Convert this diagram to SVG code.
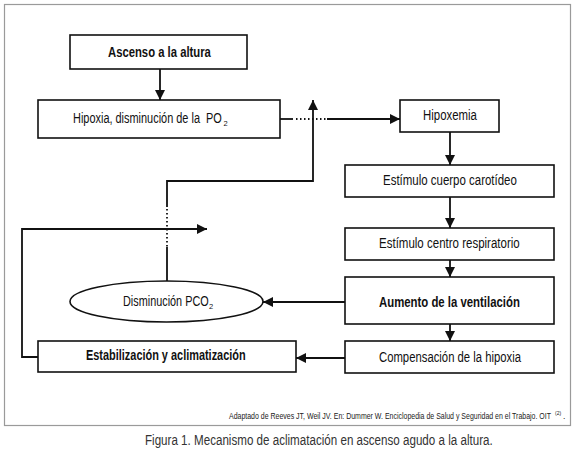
<svg xmlns="http://www.w3.org/2000/svg" width="575" height="457" viewBox="0 0 575 457">
<style>
.box{fill:#fff;stroke:#111;stroke-width:1.6}
.t{font-family:"Liberation Sans",Arial,sans-serif;font-size:14.5px;fill:#111}
.sub{font-family:"Liberation Sans",Arial,sans-serif;font-size:7.5px;fill:#111}
.b{font-weight:bold}
.ln{fill:none;stroke:#111;stroke-width:1.8}
.dot{fill:none;stroke:#111;stroke-width:1.8;stroke-dasharray:1.5 2.5}
</style>
<defs>
<marker id="ah" viewBox="0 0 10 10" refX="10" refY="5" markerWidth="10" markerHeight="10" markerUnits="userSpaceOnUse" orient="auto">
<path d="M0,0 L10,5 L0,10 z" fill="#111"/>
</marker>
</defs>
<rect x="0" y="0" width="575" height="457" fill="#fff"/>
<rect x="4.5" y="4.5" width="566" height="421" fill="none" stroke="#9a9a9a" stroke-width="1.2"/>

<g id="connectors">
<line class="ln" x1="160" y1="69" x2="160" y2="100" marker-end="url(#ah)"/>
<polyline class="ln" points="280,119 293,119"/>
<line class="dot" x1="296" y1="119" x2="327" y2="119"/>
<line class="ln" x1="327" y1="119" x2="400" y2="119" marker-end="url(#ah)"/>
<line class="ln" x1="450" y1="132" x2="450" y2="165" marker-end="url(#ah)"/>
<line class="ln" x1="450" y1="197" x2="450" y2="228" marker-end="url(#ah)"/>
<line class="ln" x1="450" y1="260" x2="450" y2="277" marker-end="url(#ah)"/>
<line class="ln" x1="450" y1="324" x2="450" y2="341" marker-end="url(#ah)"/>
<line class="ln" x1="345" y1="302" x2="263" y2="302" marker-end="url(#ah)"/>
<line class="ln" x1="345" y1="358" x2="296" y2="358" marker-end="url(#ah)"/>
<polyline class="ln" points="167,207 167,181 313,181 313,100" marker-end="url(#ah)"/>
<line class="dot" x1="167" y1="209" x2="167" y2="247"/>
<line class="ln" x1="167" y1="247" x2="167" y2="281"/>
<polyline class="ln" points="38,357 22,357 22,229 207,229" marker-end="url(#ah)"/>
</g>

<g id="n1"><rect class="box" x="70" y="35" width="177" height="34"/>
<text class="t b" transform="translate(108,57) scale(0.779,1)">Ascenso a la altura</text></g>

<g id="n2"><rect class="box" x="38" y="100" width="242" height="38"/>
<text class="t" transform="translate(73,123) scale(0.755,1)" xml:space="preserve">Hipoxia, disminución de la  PO</text>
<text class="sub" x="223.5" y="125.5">2</text></g>

<g id="n3"><rect class="box" x="400" y="100" width="99" height="32"/>
<text class="t" transform="translate(423,120) scale(0.788,1)">Hipoxemia</text></g>

<g id="n4"><rect class="box" x="345" y="165" width="209" height="32"/>
<text class="t" transform="translate(383,185) scale(0.792,1)">Estímulo cuerpo carotídeo</text></g>

<g id="n5"><rect class="box" x="345" y="228" width="209" height="32"/>
<text class="t" transform="translate(379,248) scale(0.795,1)">Estímulo centro respiratorio</text></g>

<g id="n6"><rect class="box" x="345" y="277" width="209" height="47"/>
<text class="t b" transform="translate(379,307) scale(0.785,1)">Aumento de la ventilación</text></g>

<g id="n7"><rect class="box" x="345" y="341" width="209" height="32"/>
<text class="t" transform="translate(379,362) scale(0.78,1)">Compensación de la hipoxia</text></g>

<g id="n8"><ellipse class="box" cx="166.5" cy="301.5" rx="96.5" ry="20.5"/>
<text class="t" transform="translate(123,306) scale(0.75,1)">Disminución PCO</text>
<text class="sub" x="209" y="308.5">2</text></g>

<g id="n9"><rect class="box" x="38" y="341" width="258" height="31"/>
<text class="t b" transform="translate(86,360) scale(0.754,1)">Estabilización y aclimatización</text></g>

<text transform="translate(229,419) scale(0.823,1)" font-family="'Liberation Sans',Arial,sans-serif" font-size="8.5" fill="#222">Adaptado de Reeves JT, Weil JV. En: Dummer W. Enciclopedia de Salud y Seguridad en el Trabajo. OIT</text>
<text x="555" y="415" font-family="'Liberation Sans',Arial,sans-serif" font-size="5" fill="#222">(2)</text>
<text x="563" y="419" font-family="'Liberation Sans',Arial,sans-serif" font-size="8.5" fill="#222">.</text>
<text transform="translate(145,445) scale(0.774,1)" font-family="'Liberation Sans',Arial,sans-serif" font-size="15" fill="#333">Figura 1. Mecanismo de aclimatación en ascenso agudo a la altura.</text>
</svg>
